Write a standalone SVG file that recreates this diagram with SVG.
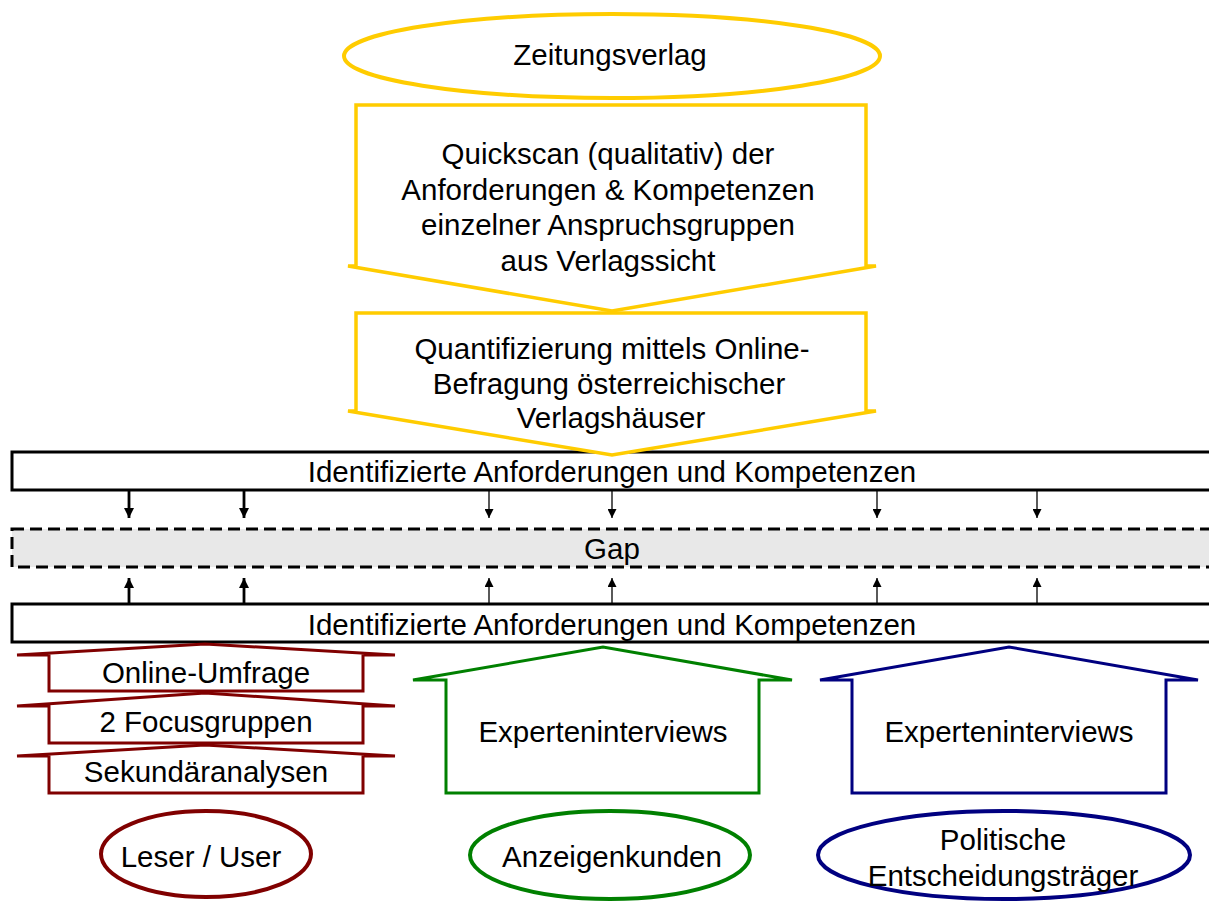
<svg xmlns="http://www.w3.org/2000/svg" width="1209" height="902" viewBox="0 0 1209 902">
<style>
text{font-family:"Liberation Sans",Arial,sans-serif;font-size:29.5px;fill:#000;text-anchor:middle}
.y{fill:#fff;stroke:#FFCC00;stroke-width:3.5}
.r{fill:#fff;stroke:#800000;stroke-width:3}
.g{fill:#fff;stroke:#008000;stroke-width:3}
.b{fill:#fff;stroke:#000080;stroke-width:3}
.bar{fill:#fff;stroke:#000;stroke-width:3}
.gap{fill:#e8e8e8;stroke:#000;stroke-width:3;stroke-dasharray:12 6}
.thick{stroke:#000;stroke-width:2.8}
.thin{stroke:#000;stroke-width:1.3}
</style>
<defs>
<marker id="ah" viewBox="0 0 10 10" refX="10" refY="5" markerWidth="9" markerHeight="9" markerUnits="userSpaceOnUse" orient="auto"><path d="M0,0 L10,5 L0,10 Z" fill="#000"/></marker>
<marker id="ahb" viewBox="0 0 10 10" refX="10" refY="5" markerWidth="10" markerHeight="10" markerUnits="userSpaceOnUse" orient="auto"><path d="M0,0 L10,5 L0,10 Z" fill="#000"/></marker>
</defs>
<g id="zeitungsverlag"><ellipse cx="612" cy="56" rx="268" ry="42" fill="#fff" stroke="#FFCC00" stroke-width="4"/><text x="610" y="65">Zeitungsverlag</text></g>
<g id="bar-top"><rect class="bar" x="12" y="452" width="1205" height="38"/><text x="612" y="482">Identifizierte Anforderungen und Kompetenzen</text></g>
<g id="quickscan"><path class="y" d="M356,266 L356,105 L866,105 L866,266 L876,266 L612,311 L348,266 Z"/><text x="608" y="164">Quickscan (qualitativ) der</text><text x="608" y="199.5">Anforderungen &amp; Kompetenzen</text><text x="608" y="235">einzelner Anspruchsgruppen</text><text x="608" y="270.5">aus Verlagssicht</text></g>
<g id="quantifizierung"><path class="y" d="M356,411 L356,313 L866,313 L866,411 L876,411 L612,455 L348,411 Z"/><text x="612" y="359">Quantifizierung mittels Online-</text><text x="609" y="394">Befragung österreichischer</text><text x="611" y="428">Verlagshäuser</text></g>
<g id="gap"><rect class="gap" x="12" y="529" width="1205" height="38"/><text x="612" y="559">Gap</text></g>
<g id="bar-bottom"><rect class="bar" x="12" y="604" width="1205" height="38"/><text x="612" y="635">Identifizierte Anforderungen und Kompetenzen</text></g>
<g id="connectors">
<line class="thick" x1="129" y1="490" x2="129" y2="518" marker-end="url(#ahb)"/>
<line class="thick" x1="244" y1="490" x2="244" y2="518" marker-end="url(#ahb)"/>
<line class="thin" x1="489" y1="490" x2="489" y2="518" marker-end="url(#ah)"/>
<line class="thin" x1="612" y1="490" x2="612" y2="518" marker-end="url(#ah)"/>
<line class="thin" x1="877" y1="490" x2="877" y2="518" marker-end="url(#ah)"/>
<line class="thin" x1="1037" y1="490" x2="1037" y2="518" marker-end="url(#ah)"/>
<line class="thick" x1="129" y1="604" x2="129" y2="578" marker-end="url(#ahb)"/>
<line class="thick" x1="244" y1="604" x2="244" y2="578" marker-end="url(#ahb)"/>
<line class="thin" x1="489" y1="604" x2="489" y2="578" marker-end="url(#ah)"/>
<line class="thin" x1="612" y1="604" x2="612" y2="578" marker-end="url(#ah)"/>
<line class="thin" x1="877" y1="604" x2="877" y2="578" marker-end="url(#ah)"/>
<line class="thin" x1="1037" y1="604" x2="1037" y2="578" marker-end="url(#ah)"/>
</g>
<g id="online-umfrage"><path class="r" d="M49,691 L49,655 L17,655 L205,644 L395,655 L363,655 L363,691 Z"/><text x="206" y="683">Online-Umfrage</text></g>
<g id="focusgruppen"><path class="r" d="M49,743 L49,706 L17,706 L205,693 L395,706 L363,706 L363,743 Z"/><text x="206" y="732">2 Focusgruppen</text></g>
<g id="sekundaeranalysen"><path class="r" d="M49,793 L49,756 L17,756 L205,745 L395,756 L363,756 L363,793 Z"/><text x="206" y="782">Sekundäranalysen</text></g>
<g id="experten-anzeigen"><path class="g" d="M446,793 L446,680 L413,680 L603,647 L792,680 L759,680 L759,793 Z"/><text x="603" y="742">Experteninterviews</text></g>
<g id="experten-politik"><path class="b" d="M852,793 L852,680 L820,680 L1009,647 L1198,680 L1166,680 L1166,793 Z"/><text x="1009" y="742">Experteninterviews</text></g>
<g id="leser"><ellipse cx="206" cy="854" rx="105" ry="43" fill="#fff" stroke="#800000" stroke-width="4"/><text x="201" y="867">Leser / User</text></g>
<g id="anzeigenkunden"><ellipse cx="610" cy="855" rx="140" ry="44" fill="#fff" stroke="#008000" stroke-width="4"/><text x="612" y="867">Anzeigenkunden</text></g>
<g id="politik"><ellipse cx="1004" cy="855" rx="186" ry="44" fill="#fff" stroke="#000080" stroke-width="4"/><text x="1003" y="850">Politische</text><text x="1003" y="886">Entscheidungsträger</text></g>
</svg>
